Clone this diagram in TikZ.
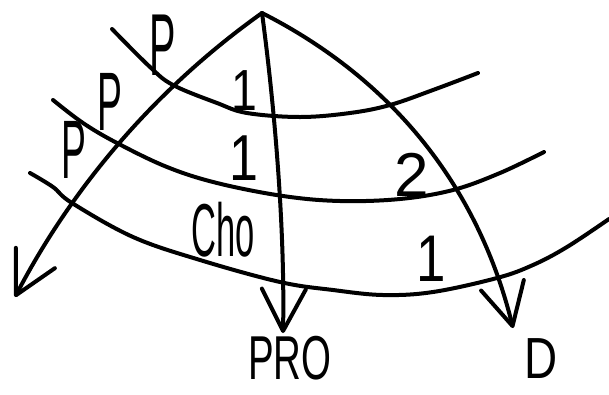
\documentclass[tikz,border=0pt]{standalone}
\usepackage{fontspec}
\usepackage{graphicx}
\usepackage{tikz}
\usetikzlibrary{arrows.meta,positioning,calc}
\newfontfamily\handfont{Liberation Sans}
\newcommand{\sketchtext}[3]{{\handfont\fontsize{#1}{#1}\selectfont\scalebox{#2}[1]{#3}}}

\begin{document}
\begin{tikzpicture}[
    x=1pt, y=-1pt,
    stroke/.style={line width=4pt, line cap=round, line join=round, black},
    ray/.style={stroke, -{Straight Barb[length=42pt, width=44pt, line cap=round, line join=round]}},
    lab/.style={inner sep=0pt, outer sep=0pt}
]
    \useasboundingbox (0,0) rectangle (609,394);

    % band boundaries
    \draw[stroke] plot[smooth, tension=0.6] coordinates {(112,29) (150,67) (173,85) (217,103) (247,113) (300,117) (350,113) (390,105) (433,90) (478,73)};
    \draw[stroke] plot[smooth, tension=0.6] coordinates {(53,100) (83,123) (117,143) (167,167) (217,183) (283,196) (340,201) (400,199) (453,190) (500,173) (544,152)};
    \draw[stroke] plot[smooth, tension=0.6] coordinates {(30,173) (53,187) (72,203) (133,237) (200,260) (280,282) (333,290) (383,295) (433,292) (497,278) (533,265) (567,247) (609,219)};

    % rays from the top
    \coordinate (apex) at (262,13);
    \coordinate (lend) at (15,297);
    \coordinate (mend) at (283,333);
    \coordinate (rend) at (513,328);

    \draw[ray] (apex) .. controls (158,87) and (74,184) .. (lend);
    \draw[ray] (apex) .. controls (275,110) and (285,230) .. (mend);
    \draw[ray] (apex) .. controls (392,79) and (478,186) .. (rend);

    % labels
    \node[lab] (plabA) at (163,45)  {\sketchtext{88}{0.45}{P}};
    \node[lab] (plabB) at (110,102) {\sketchtext{83}{0.45}{P}};
    \node[lab] (plabC) at (74,150)  {\sketchtext{83}{0.45}{P}};
    \node[lab] (oneA)  at (244,91)  {\sketchtext{58}{0.8}{1}};
    \node[lab] (oneB)  at (244,158) {\sketchtext{65}{0.8}{1}};
    \node[lab] (twoA)  at (412,175) {\sketchtext{62}{1}{2}};
    \node[lab] (cho)   at (223,230) {\sketchtext{75}{0.46}{Cho}};
    \node[lab] (oneC)  at (431,259) {\sketchtext{66}{0.8}{1}};
    \node[lab] (pro)   at (290,358) {\sketchtext{62}{0.62}{PRO}};
    \node[lab] (d)     at (541,359) {\sketchtext{58}{0.79}{D}};
\end{tikzpicture}
\end{document}
